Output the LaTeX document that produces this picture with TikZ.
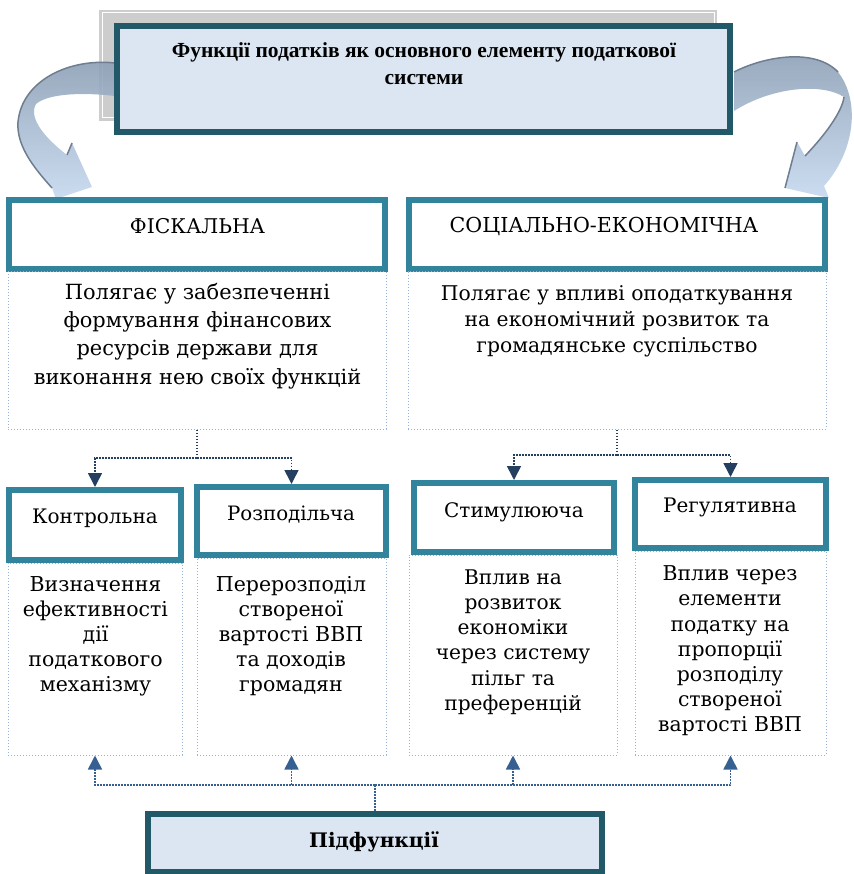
\documentclass[tikz,border=0pt]{standalone}
\usepackage{fontspec}
\setmainfont{DejaVu Serif}
\newfontfamily\titlefont{Liberation Serif}
\usetikzlibrary{arrows.meta,calc}
\definecolor{titleframe}{RGB}{33,89,104}
\definecolor{titlefill}{RGB}{220,230,242}
\definecolor{tealframe}{RGB}{49,132,155}
\definecolor{dotblue}{RGB}{149,179,215}
\definecolor{navy}{RGB}{36,63,96}
\definecolor{midblue}{RGB}{54,96,146}
\definecolor{shadowgray}{RGB}{205,205,205}
\definecolor{arrgray}{RGB}{140,158,180}
\definecolor{arrblue}{RGB}{198,217,240}
\definecolor{arredge}{RGB}{110,125,143}
\begin{document}
\begin{tikzpicture}[x=1pt,y=-1pt,
  titlebox/.style={draw=titleframe,line width=6pt,fill=titlefill,inner sep=0pt},
  hdrbox/.style={draw=tealframe,line width=6pt,fill=white,inner sep=0pt},
  bodybox/.style={draw=dotblue,dotted,line width=1pt,inner sep=0pt},
  hdrtext/.style={inner sep=0pt,font=\fontsize{#1}{22}\selectfont},
  bodytext/.style 2 args={inner sep=0pt,align=center,font=\fontsize{#1}{#2}\selectfont},
  topline/.style={draw=navy,line width=1.6pt,dash pattern=on 1.6pt off 1.4pt},
  botline/.style={draw=midblue,line width=1.6pt,dash pattern=on 1.6pt off 1.4pt},
  toptip/.style={-{Triangle[width=14pt,length=14pt,fill=navy]}},
  bottip/.style={-{Triangle[width=14pt,length=14pt,fill=midblue]}},
  curvarrow/.style={top color=arrgray,bottom color=arrblue,opacity=0.9},
  arroutline/.style={draw=arredge,line width=1.5pt}
]
\useasboundingbox (0,0) rectangle (853,874);

% shadow behind the title
\fill[shadowgray] (99,10) rectangle (717,121);
\draw[white,line width=1pt] (102,13) rectangle (714,118);

% left curved arrow
\shade[curvarrow] (115,63) .. controls (70,58) and (22,80) .. (18,122)
  .. controls (16,148) and (38,172) .. (52,188) -- (56,199) -- (92,187) -- (72,143) -- (67,155)
  .. controls (45,138) and (28,118) .. (36,104) .. controls (50,92) and (90,93) .. (115,96) -- cycle;
\draw[arroutline] (115,63) .. controls (70,58) and (22,80) .. (18,122)
  .. controls (16,148) and (38,172) .. (52,188);
\draw[arroutline] (67,155) -- (72,143);

% right curved arrow
\shade[curvarrow] (734,72) .. controls (765,56) and (815,48) .. (838,72)
  .. controls (860,100) and (856,150) .. (824,186) -- (829,198) -- (785,188) -- (797,142) -- (805,156)
  .. controls (825,135) and (842,112) .. (844,97) .. controls (820,82) and (770,88) .. (734,111) -- cycle;
\draw[arroutline] (734,72) .. controls (765,56) and (815,48) .. (838,72);
\draw[arroutline] (797,142) -- (785,188);
\draw[arroutline] (805,156) .. controls (825,135) and (842,112) .. (844,97);

% title
\node[titlebox,minimum width=613pt,minimum height=106pt] (title) at (423.5,79) {};
\node[inner sep=0pt,align=center,font=\titlefont\bfseries\fontsize{21.5}{27}\selectfont] (titlet) at (424,64)
  {Функції податків як основного елементу податкової\\системи};

% main function boxes
\node[hdrbox,minimum width=376pt,minimum height=69pt] (fh) at (197,234.5) {};
\node[hdrtext=20.3] (fht) at (197.5,226) {ФІСКАЛЬНА};
\node[bodybox,minimum width=378pt,minimum height=157pt] (fbody) at (197,350.5) {};
\node[bodytext={20.9}{28.3}] (fbt) at (197.5,336)
  {Полягає у забезпеченні\\формування фінансових\\ресурсів держави для\\виконання нею своїх функцій};

\node[hdrbox,minimum width=416pt,minimum height=69pt] (sh) at (617,234.5) {};
\node[hdrtext=20.6] (sht) at (604,226) {СОЦІАЛЬНО-ЕКОНОМІЧНА};
\node[bodybox,minimum width=418pt,minimum height=157pt] (sbody) at (617,350.5) {};
\node[bodytext={20.3}{26}] (sbt) at (617,321)
  {Полягає у впливі оподаткування\\на економічний розвиток та\\громадянське суспільство};

% sub function boxes
\node[hdrbox,minimum width=172pt,minimum height=70pt] (kh) at (95,525) {};
\node[hdrtext=20] (kht) at (95,518) {Контрольна};
\node[bodybox,minimum width=174pt,minimum height=192pt] (kbody) at (95,659) {};
\node[bodytext={20.5}{25}] (kbt) at (95.5,636)
  {Визначення\\ефективності\\дії\\податкового\\механізму};

\node[hdrbox,minimum width=189pt,minimum height=68pt] (rh) at (291.5,521) {};
\node[hdrtext=19.8] (rht) at (291,515) {Розподільча};
\node[bodybox,minimum width=189pt,minimum height=197pt] (rbody) at (291.5,656.5) {};
\node[bodytext={20.5}{25}] (rbt) at (291,636)
  {Перерозподіл\\створеної\\вартості ВВП\\та доходів\\громадян};

\node[hdrbox,minimum width=200pt,minimum height=69pt] (th) at (514,517.5) {};
\node[hdrtext=20] (tht) at (514,512) {Стимулююча};
\node[bodybox,minimum width=208pt,minimum height=200pt] (tbody) at (513,655) {};
\node[bodytext={20.2}{25.2}] (tbt) at (513,642)
  {Вплив на\\розвиток\\економіки\\через систему\\пільг та\\преференцій};

\node[hdrbox,minimum width=191pt,minimum height=68pt] (gh) at (730.5,514) {};
\node[hdrtext=20] (ght) at (730,507) {Регулятивна};
\node[bodybox,minimum width=191pt,minimum height=204pt] (gbody) at (730.5,653) {};
\node[bodytext={20.4}{25.2}] (gbt) at (730,651)
  {Вплив через\\елементи\\податку на\\пропорції\\розподілу\\створеної\\вартості ВВП};

% sub-functions box
\node[titlebox,minimum width=454pt,minimum height=58pt] (pidf) at (375,843) {};
\node[inner sep=0pt,font=\bfseries\fontsize{20}{22}\selectfont] (pidft) at (374,842) {Підфункції};

% top connectors
\coordinate (fj) at (197,458);
\coordinate (sj) at (617,455);
\draw[topline] (fbody.south) -- (fj);
\draw[topline,toptip] (fj) -| (kh.north);
\draw[topline,toptip] (fj) -| (rh.north);
\draw[topline] (sbody.south) -- (sj);
\draw[topline,toptip] (sj) -| (th.north);
\draw[topline,toptip] (sj) -| (gh.north);

% bottom connectors
\coordinate (bj) at (375,785);
\draw[botline] (pidf.north) -- (bj);
\draw[botline,bottip] (bj) -| (kbody.south);
\draw[botline,bottip] (bj) -| (rbody.south);
\draw[botline,bottip] (bj) -| (tbody.south);
\draw[botline,bottip] (bj) -| (gbody.south);
\end{tikzpicture}
\end{document}
